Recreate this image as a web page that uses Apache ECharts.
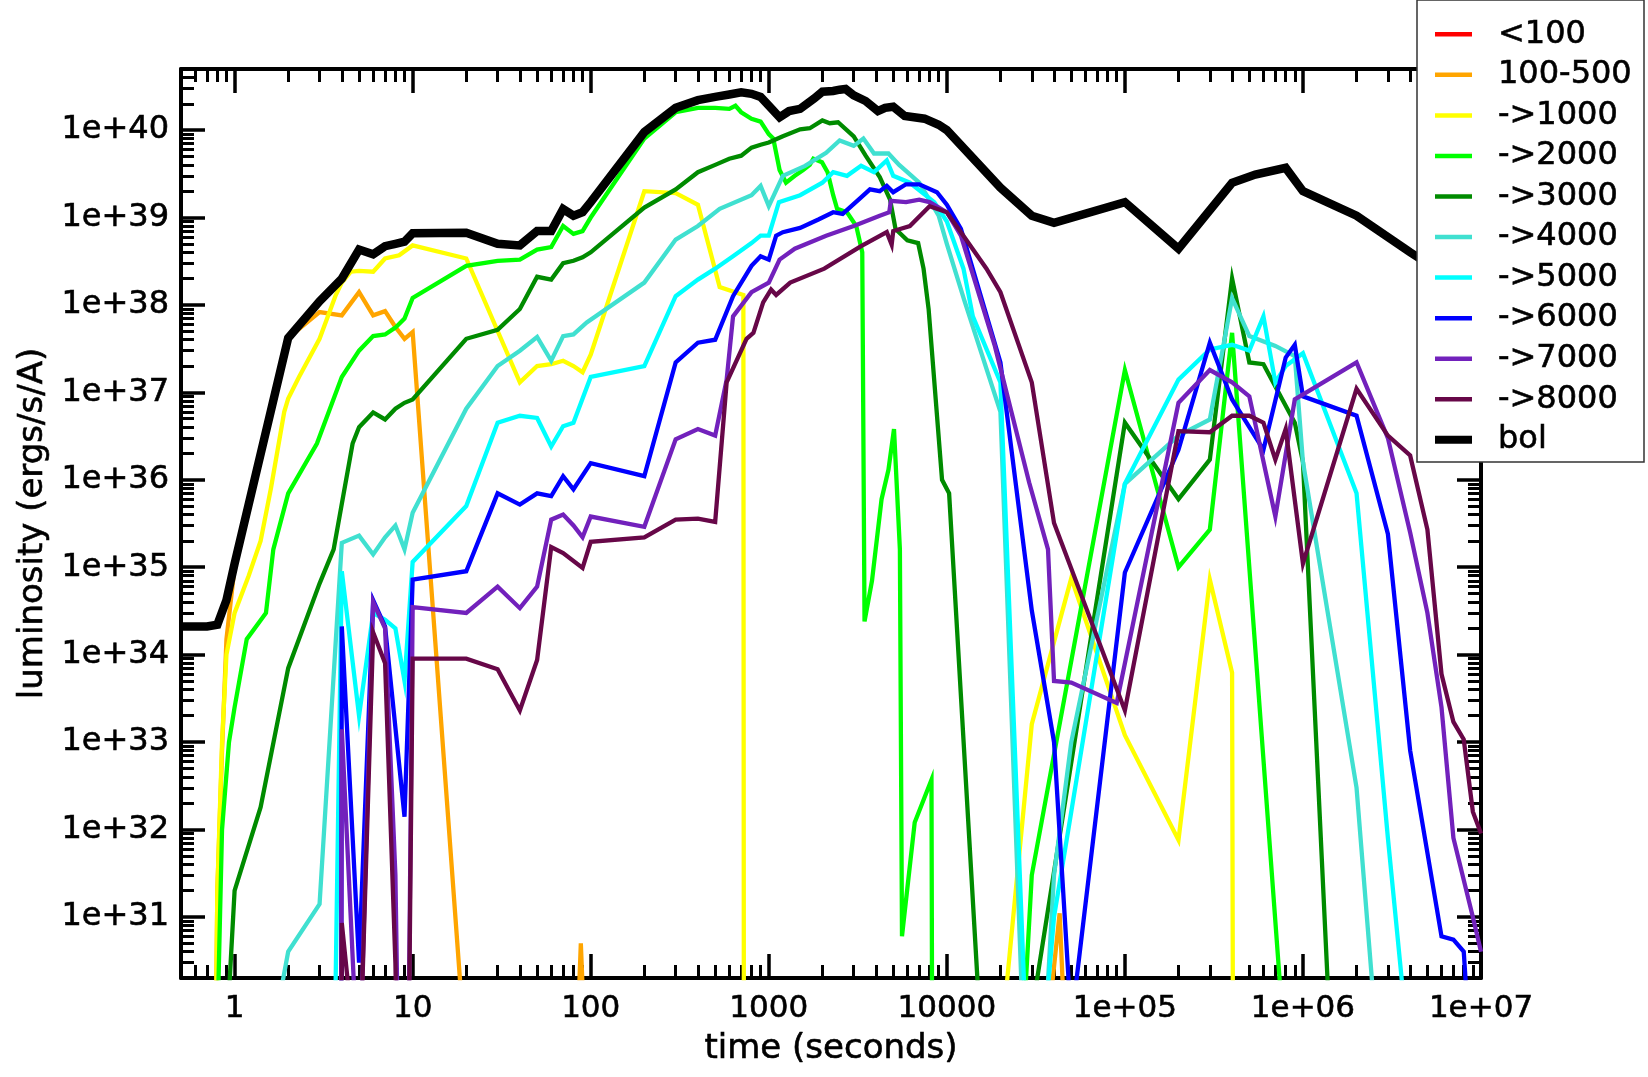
<!DOCTYPE html>
<html>
<head>
<meta charset="utf-8">
<script src="https://cdn.jsdelivr.net/npm/echarts@6/dist/echarts.min.js"></script>
<style>
html,body{margin:0;padding:0;background:#fff;}
#chart{width:1648px;height:1077px;}
</style>
</head>
<body>
<div id="chart"></div>
<script>
// ---------------- data: [time (s), luminosity (ergs/s/A)] ----------------
const seriesNames = ['<100','100-500','->1000','->2000','->3000','->4000','->5000','->6000','->7000','->8000','bol'];
const seriesColors = ['#ff0000','#ffa500','#ffff00','#00ff00','#008b00','#40e0d0','#00ffff','#0000ff','#7221bc','#670748','#000000'];

const lt100 = [];

const b100_500 = [[0.7,1e20],[0.8,2e31],[0.85,8e32],[0.9,1.5e34],[1,1.0e35],[2,4.2e37],[3,8.3e37],[4,7.6e37],[5,1.4e38],[6,7.6e37],[7,8.5e37],[8,5.6e37],[9,4.1e37],[10,4.9e37],[20,2e29],[82,1e29],[88,5e30],[95,1e29],[3e4,1e28],[4.3e4,1.1e31],[5e4,1e28]];

const to1000 = [[0.7,1e20],[0.8,2e31],[0.85,1e33],[0.9,1e34],[1,3e34],[1.2,8e34],[1.4,2e35],[1.6,8e35],[1.9,6e36],[2,8.5e36],[2.3,1.5e37],[3,4.1e37],[3.7,1.3e38],[4,1.8e38],[4.5,2.4e38],[5,2.45e38],[6,2.4e38],[7,3.4e38],[8.4,3.7e38],[10,4.8e38],[20,3.4e38],[40,1.3e37],[50,2e37],[60,2.1e37],[70,2.3e37],[80,2e37],[90,1.7e37],[100,2.7e37],[200,2e39],[300,1.9e39],[400,1.4e39],[530,1.6e38],[720,1.3e38],[730,1e20],[2e4,3e29],[3e4,1.6e33],[5e4,7.5e34],[1e5,1.2e33],[2e5,7.6e31],[3e5,7.2e34],[4e5,6.2e33],[4.15e5,1e20]];

const to2000 = [[0.75,1e22],[0.8,5e29],[0.85,1e32],[0.93,1e33],[1,2.5e33],[1.17,1.5e34],[1.5,3e34],[1.65,1.6e35],[2,7e35],[2.9,2.6e36],[4,1.5e37],[5,3e37],[6,4.4e37],[7,4.6e37],[8,5.5e37],[9,7e37],[10,1.2e38],[20,2.8e38],[30,3.2e38],[40,3.3e38],[50,4.3e38],[60,4.6e38],[70,8e38],[80,6.5e38],[90,7e38],[100,1e39],[200,8e39],[300,1.6e40],[400,1.8e40],[500,1.8e40],[600,1.75e40],[650,1.9e40],[700,1.6e40],[800,1.35e40],[900,1.25e40],[1000,9e39],[1060,8e39],[1150,3.5e39],[1250,2.5e39],[1400,3e39],[1560,3.5e39],[1700,4e39],[1780,4.7e39],[1990,4.3e39],[2140,3.3e39],[2300,1.8e39],[2420,1.26e39],[2750,1.15e39],[3100,8e38],[3350,4e38],[3450,2.4e34],[3800,7e34],[4300,6e35],[4700,1.3e36],[5050,3.8e36],[5450,1.6e35],[5600,6e30],[6600,1.2e32],[8200,3.7e32],[8500,1e20],[2e4,1e25],[3e4,3e31],[1e5,1.8e37],[2e5,1e35],[3e5,2.7e35],[4e5,4.8e37],[8e5,2.2e29]];

const to3000 = [[0.8,1e24],[0.9,4e29],[1,2e31],[1.4,1.8e32],[2,7e33],[3,6.5e34],[3.6,1.6e35],[4.6,2.6e36],[5,4e36],[6,5.9e36],[7,4.9e36],[8,6.5e36],[9,7.6e36],[10,8.3e36],[20,4.1e37],[30,5.2e37],[40,9e37],[50,2.1e38],[60,1.95e38],[70,3e38],[80,3.2e38],[90,3.5e38],[100,4e38],[200,1.3e39],[300,2.1e39],[400,3.3e39],[500,4e39],[600,4.7e39],[700,5.1e39],[800,6.3e39],[900,6.8e39],[1000,7.2e39],[1200,8.5e39],[1500,1.02e40],[1700,1.05e40],[2000,1.29e40],[2200,1.2e40],[2450,1.23e40],[3000,8.5e39],[3500,5.1e39],[4200,2.9e39],[4800,1.6e39],[5150,7.4e38],[6000,5.5e38],[6900,5.1e38],[7400,2.6e38],[7900,9e37],[9400,1e36],[10300,7e35],[2e4,6e25],[3e4,8e29],[1e5,4.5e36],[2e5,6e35],[3e5,1.7e36],[4e5,2e38],[5e5,2.2e37],[6e5,2.1e37],[9e5,4.5e36],[1e6,1.6e36],[2e6,2e23]];

const to4000 = [[1,2e27],[2,4e30],[3,1.4e31],[4,1.9e35],[5,2.3e35],[6,1.4e35],[7,2.2e35],[8,3e35],[9,1.6e35],[10,4.2e35],[20,6.5e36],[30,2e37],[40,3e37],[50,4.3e37],[60,2.3e37],[70,4.4e37],[80,4.6e37],[95,6.3e37],[200,1.8e38],[300,5.6e38],[400,8e38],[530,1.26e39],[800,1.8e39],[900,2.3e39],[1000,1.35e39],[1200,3e39],[1600,3.9e39],[2100,5.5e39],[2500,7.6e39],[3000,6.6e39],[3400,8e39],[3900,5.4e39],[4700,5.4e39],[5400,4e39],[7000,2.5e39],[9000,1.05e39],[1e4,5e38],[1.25e4,1.15e38],[2e4,6e36],[3e4,1e27],[4e4,3e31],[5e4,1e33],[1e5,9e35],[2e5,3.2e36],[3e5,4.9e36],[4e5,1.2e38],[5e5,4.4e37],[7e5,3.4e37],[9e5,2.6e37],[1e6,1.6e36],[2e6,3e32],[3e6,1e28]];

const to5000 = [[3,1e18],[4,9e34],[5,2e33],[6,3e34],[7,2.5e34],[8,2e34],[9,5e33],[10,1.15e35],[20,5e35],[30,4.5e36],[40,5.4e36],[50,5.1e36],[60,2.4e36],[70,4.1e36],[80,4.5e36],[100,1.5e37],[200,2e37],[300,1.26e38],[400,1.95e38],[500,2.6e38],[630,3.6e38],[800,5.1e38],[900,6.2e38],[1000,6.2e38],[1140,1.5e39],[1500,1.8e39],[2000,2.5e39],[2300,3.3e39],[2750,3e39],[3300,3.9e39],[3900,3.3e39],[4600,4.5e39],[5000,3e39],[6200,2.5e39],[8500,1.5e39],[1e4,9e38],[1.24e4,2.6e38],[1.4e4,7.4e37],[2e4,1.3e37],[3e4,1e28],[4e4,1e31],[5e4,1.6e32],[1e5,9e35],[2e5,1.4e37],[3e5,3.1e37],[4e5,3.5e37],[5e5,3e37],[6e5,7.4e37],[7e5,1.3e37],[8e5,2e37],[1e6,2.8e37],[2e6,7e35],[3e6,8e31],[4e6,2e29]];

const to6000 = [[3.9,1e20],[4,2.1e34],[5,3e30],[6,4.2e34],[7,2.1e34],[9,1.4e32],[10,7.2e34],[20,9e34],[30,7e35],[40,5.2e35],[50,7e35],[60,6.5e35],[70,1.1e36],[80,7.8e35],[100,1.55e36],[200,1.1e36],[300,2.2e37],[400,3.7e37],[500,4e37],[630,1.26e38],[800,2.8e38],[900,3.6e38],[1000,3.3e38],[1100,6.2e38],[1200,6.8e38],[1500,7.6e38],[1900,9.5e38],[2300,1.15e39],[2600,1.1e39],[3300,1.7e39],[3700,2.1e39],[4200,2e39],[4600,2.3e39],[5000,1.95e39],[5900,2.4e39],[7000,2.4e39],[8800,1.95e39],[1e4,1.4e39],[1.2e4,7.4e38],[2e4,2.2e37],[3e4,3.2e34],[4e4,1e33],[5e4,6e29],[1e5,8.7e34],[2e5,2.2e36],[3e5,3.7e37],[4e5,8.3e36],[5e5,4e36],[6e5,2.2e36],[8e5,2.5e37],[9e5,3.5e37],[1e6,9e36],[2e6,5.4e36],[3e6,2.4e35],[4e6,8e32],[6e6,6e30],[7e6,5.5e30],[8e6,4e30],[9e6,1e29]];

const to7000 = [[3.9,1e20],[4,1.4e33],[5,1e29],[6,4e34],[7,2e34],[8,3e31],[9,5e24],[10,3.5e34],[20,3e34],[30,6e34],[40,3.4e34],[50,6e34],[60,3.5e35],[70,4e35],[80,3e35],[90,2.2e35],[100,3.8e35],[200,2.9e35],[300,2.9e36],[400,3.8e36],[500,3.2e36],[580,1.4e37],[630,7.4e37],[800,1.4e38],[1000,1.8e38],[1150,3.3e38],[1400,4.4e38],[2100,6.2e38],[3000,8e38],[4200,1.05e39],[4750,1.15e39],[4850,1.55e39],[5900,1.5e39],[7000,1.6e39],[8000,1.5e39],[1e4,1.15e39],[1.2e4,6.2e38],[1.86e4,3.4e37],[2.9e4,9.3e35],[3.7e4,1.6e35],[4e4,5e33],[5e4,4.8e33],[9e4,2.8e33],[2e5,7.6e36],[3e5,1.8e37],[4e5,1.3e37],[5e5,9e36],[7e5,3.8e35],[9e5,8.3e36],[2e6,2.2e37],[3e6,3e36],[4e6,2.5e35],[5e6,3e34],[6e6,2.5e33],[7e6,8e31],[9e6,1e31],[1e7,4e30]];

const to8000 = [[3.9,1e20],[4,8.5e30],[5,1e29],[6,1.8e34],[7,8e33],[8,3e30],[9,5e24],[10,9e33],[20,9e33],[30,6.8e33],[40,2.3e33],[50,8.7e33],[60,1.7e35],[70,1.45e35],[90,9.8e34],[100,1.95e35],[200,2.2e35],[300,3.5e35],[400,3.6e35],[500,3.3e35],[580,1.3e37],[750,4.1e37],[820,4.8e37],[930,1.07e38],[1030,1.5e38],[1100,1.3e38],[1320,1.8e38],[2050,2.6e38],[3300,4.7e38],[4600,6.8e38],[4900,4.9e38],[5000,7e38],[6200,8e38],[8000,1.35e39],[1e4,1.15e39],[1.2e4,6.8e38],[1.67e4,2.6e38],[2e4,1.4e38],[3e4,1.3e37],[4e4,3.2e35],[1e5,2.3e33],[2e5,3.6e36],[3e5,3.5e36],[4e5,5.4e36],[5e5,5.4e36],[6e5,4.5e36],[7e5,1.7e36],[8e5,3.8e36],[1e6,1.1e35],[2e6,1.1e37],[3e6,3.2e36],[4e6,1.9e36],[5e6,2.7e35],[6e6,6e33],[7e6,1.7e33],[8e6,1.07e33],[9e6,1.6e32],[1e7,9e31]];

const bol = [[0.5,2.1e34],[0.6,2.1e34],[0.7,2.1e34],[0.8,2.2e34],[0.9,4.2e34],[1,1.1e35],[2,4.2e37],[3,1.1e38],[4,2e38],[5,4.3e38],[6,3.8e38],[7,4.7e38],[8,5e38],[9,5.3e38],[10,6.6e38],[20,6.7e38],[30,5e38],[40,4.8e38],[50,7e38],[60,7e38],[70,1.25e39],[80,1.05e39],[90,1.15e39],[100,1.5e39],[200,9.5e39],[300,1.8e40],[400,2.2e40],[500,2.4e40],[600,2.55e40],[700,2.7e40],[800,2.6e40],[900,2.4e40],[1000,1.9e40],[1150,1.4e40],[1300,1.65e40],[1500,1.75e40],[1800,2.3e40],[2000,2.75e40],[2300,2.8e40],[2500,2.9e40],[2700,2.95e40],[3000,2.5e40],[3500,2.15e40],[4100,1.65e40],[4500,1.8e40],[5000,1.85e40],[5800,1.45e40],[7500,1.35e40],[9000,1.15e40],[1e4,1e40],[2e4,2.2e39],[3e4,1.05e39],[4e4,8.7e38],[1e5,1.5e39],[2e5,4.4e38],[4e5,2.5e39],[5.4e5,3.1e39],[8e5,3.7e39],[1e6,2e39],[2e6,1.05e39],[4e6,4e38],[1e7,1.2e38]];

const seriesData = [lt100, b100_500, to1000, to2000, to3000, to4000, to5000, to6000, to7000, to8000, bol];

// ---------------- axes / ticks ----------------
const X_MIN = 0.5, X_MAX = 1e7;
const Y_MIN = 2e30, Y_MAX = 5e40;
const xMajorTicks = [1, 10, 100, 1000, 10000, 1e5, 1e6, 1e7];
const yMajorTicks = [1e31, 1e32, 1e33, 1e34, 1e35, 1e36, 1e37, 1e38, 1e39, 1e40];
const minorMultipliers = [2, 3, 4, 5, 6, 7, 8, 9];
const xDecades = [-1, 0, 1, 2, 3, 4, 5, 6];
const yDecades = [30, 31, 32, 33, 34, 35, 36, 37, 38, 39, 40];

function minorList(decades, lo, hi) {
  const out = [];
  decades.forEach(d => minorMultipliers.forEach(m => {
    const v = m * Math.pow(10, d);
    if (v > lo * 1.0001 && v < hi * 0.9999) out.push(v);
  }));
  return out;
}
const xMinorTicks = minorList(xDecades, X_MIN, X_MAX);
const yMinorTicks = minorList(yDecades, Y_MIN, Y_MAX);

const FONT = 'DejaVu Sans';
const TXT = {fontFamily: FONT, color: '#000', textBorderColor: '#000', textBorderWidth: 0.6};

function fmtX(v) {
  const e = Math.round(Math.log10(v));
  if (e < 5) return String(Math.round(v));
  return '1e+' + (e < 10 ? '0' + e : String(e));
}
function fmtY(v) {
  const e = Math.round(Math.log10(v));
  return '1e+' + e;
}

function logAxis(min, max, position, opts) {
  return Object.assign({
    type: 'log', logBase: 10, min: min, max: max, position: position,
    axisLine: {show: false},
    axisTick: {show: false},
    axisLabel: {show: false},
    splitLine: {show: false},
    minorTick: {show: false},
    minorSplitLine: {show: false},
    silent: true
  }, opts);
}

const frameLine = {show: true, onZero: false, lineStyle: {color: '#000', width: 4}};
const majorTick = (vals) => ({show: true, inside: true, length: 24, customValues: vals, lineStyle: {color: '#000', width: 3.5}});
const minorTickS = (vals) => ({show: true, inside: true, length: 13, customValues: vals, lineStyle: {color: '#000', width: 3}});

function legendIcon(name) {
  return name === 'bol' ? 'path://M0,0H37V8H0Z' : 'path://M0,0H37V4.5H0Z';
}

const chart = echarts.init(document.getElementById('chart'), null, {renderer: 'canvas'});

const option = {
  animation: false,
  backgroundColor: '#ffffff',
  grid: {left: 181, right: 167, top: 69, bottom: 99, containLabel: false},
  legend: {
    data: seriesNames.map((n, i) => ({name: n, icon: legendIcon(n), itemStyle: {color: seriesColors[i], borderWidth: 0}})),
    orient: 'vertical',
    left: 1417, top: 0,
    itemWidth: 37, itemHeight: 14, itemGap: 7.95,
    symbolKeepAspect: true,
    padding: [18, 12, 6, 18],
    backgroundColor: '#ffffff',
    borderColor: '#333333', borderWidth: 1.5,
    selectedMode: false,
    itemStyle: {borderWidth: 0},
    lineStyle: {width: 0},
    textStyle: Object.assign({fontSize: 32, lineHeight: 32, padding: [0, 0, 0, 21]}, TXT),
    z: 20
  },
  xAxis: [
    logAxis(X_MIN, X_MAX, 'bottom', {
      name: 'time (seconds)', nameLocation: 'middle', nameGap: 54,
      nameTextStyle: Object.assign({fontSize: 34}, TXT),
      axisLine: frameLine,
      axisTick: majorTick(xMajorTicks),
      axisLabel: Object.assign({show: true, customValues: xMajorTicks, formatter: fmtX, margin: 15, fontSize: 31}, TXT)
    }),
    logAxis(X_MIN, X_MAX, 'bottom', {axisTick: minorTickS(xMinorTicks)}),
    logAxis(X_MIN, X_MAX, 'top', {axisLine: frameLine, axisTick: majorTick(xMajorTicks)}),
    logAxis(X_MIN, X_MAX, 'top', {axisTick: minorTickS(xMinorTicks)})
  ],
  yAxis: [
    logAxis(Y_MIN, Y_MAX, 'left', {
      name: 'luminosity (ergs/s/A)', nameLocation: 'middle', nameGap: 128, nameRotate: 90,
      nameTextStyle: Object.assign({fontSize: 34}, TXT),
      axisLine: frameLine,
      axisTick: majorTick(yMajorTicks),
      axisLabel: Object.assign({show: true, customValues: yMajorTicks, formatter: fmtY, margin: 12, fontSize: 32}, TXT)
    }),
    logAxis(Y_MIN, Y_MAX, 'left', {axisTick: minorTickS(yMinorTicks)}),
    logAxis(Y_MIN, Y_MAX, 'right', {axisLine: frameLine, axisTick: majorTick(yMajorTicks)}),
    logAxis(Y_MIN, Y_MAX, 'right', {axisTick: minorTickS(yMinorTicks)})
  ],
  series: seriesNames.map((name, i) => ({
    name: name,
    type: 'line',
    xAxisIndex: 0, yAxisIndex: 0,
    data: seriesData[i],
    symbol: 'none', showSymbol: false,
    clip: true,
    silent: true,
    lineStyle: {color: seriesColors[i], width: name === 'bol' ? 8.5 : 4.3, join: 'miter'},
    itemStyle: {color: seriesColors[i], borderWidth: 0},
    emphasis: {disabled: true},
    z: 2 + i * 0.01
  }))
};
chart.setOption(option);
</script>
</body>
</html>
